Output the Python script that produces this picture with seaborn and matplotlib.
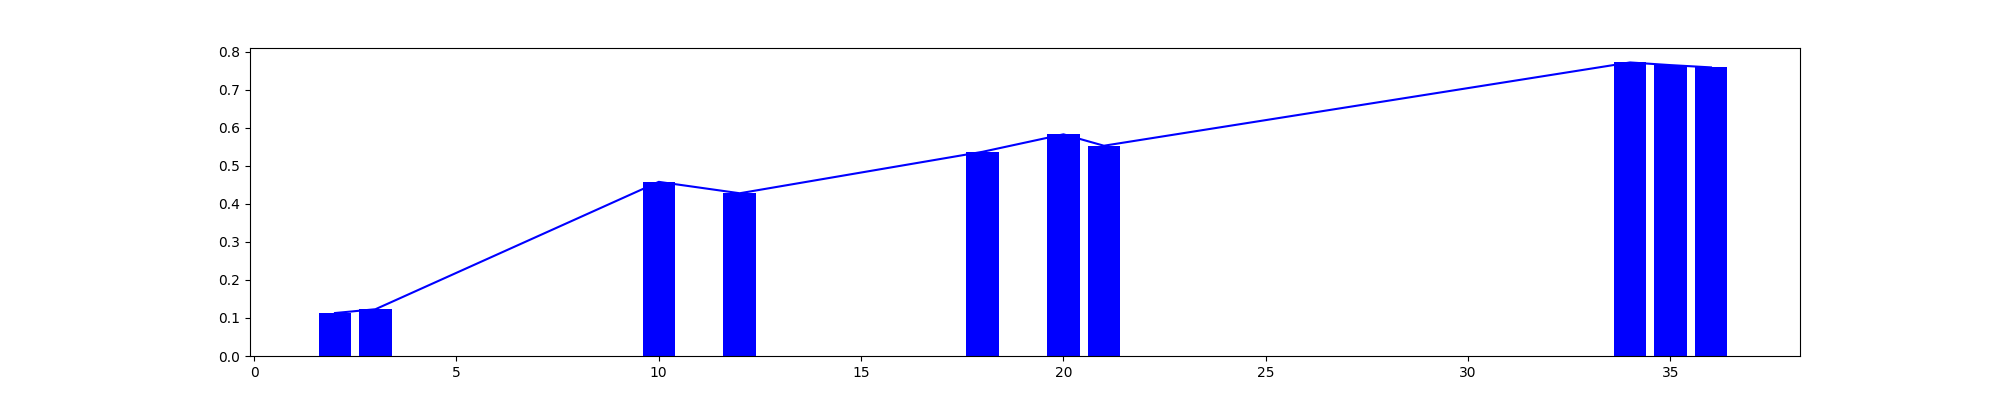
import matplotlib
matplotlib.use('Agg')
import matplotlib.pyplot as plt
import seaborn as sns
import pandas as pd

# bar positions and heights
x_vals = [2, 3, 10, 12, 18, 20, 21, 34, 35, 36]
y_vals = [0.113, 0.123, 0.458, 0.428, 0.537, 0.583, 0.553, 0.772, 0.765, 0.759]

df = pd.DataFrame({'x': x_vals, 'y': y_vals})

fig, ax = plt.subplots(figsize=(20, 4), dpi=100)
sns.barplot(data=df, x='x', y='y', native_scale=True, width=0.8,
            color='blue', saturation=1, ax=ax)
sns.lineplot(data=df, x='x', y='y', color='blue', linewidth=1.5, ax=ax)

ax.set_xlim(-0.1, 38.2)
ax.set_ylim(0, 0.81)
ax.set_xticks([0, 5, 10, 15, 20, 25, 30, 35])
ax.set_xlabel('')
ax.set_ylabel('')

plt.savefig('out.png', dpi=100)
